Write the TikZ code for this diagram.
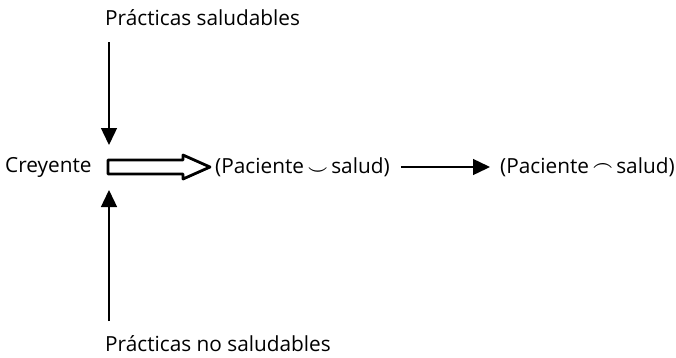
\documentclass[tikz,border=0pt]{standalone}
\usepackage{fontspec}
\setmainfont{Open Sans}
\usetikzlibrary{arrows.meta,calc}
\newcommand{\cupsym}{\,\raisebox{-1pt}{\scalebox{0.85}{$\boldsymbol{\smile}$}}\,}
\newcommand{\capsym}{\,\raisebox{3pt}{\scalebox{0.85}{$\boldsymbol{\frown}$}}\,}
\usepackage{amsmath,bm}
\begin{document}
\begin{tikzpicture}[x=1pt,y=-1pt,
  lbl/.style={inner sep=0pt,font=\fontsize{20.8}{24}\selectfont},
  conn/.style={line width=1.4pt,-{Triangle[length=17pt,width=16pt]}},
  hollow/.style={draw,line width=2.8pt,line join=round}]
\useasboundingbox (0,0) rectangle (676,357);
\node[lbl,anchor=west] (top) at (105,18) {Prácticas saludables};
\node[lbl,anchor=west] (bottom) at (105,344) {Prácticas no saludables};
\node[lbl,anchor=west] (crey) at (5,167) {Creyente};
\node[lbl,anchor=west] (union) at (215,167) {(Paciente\cupsym salud)};
\node[lbl,anchor=west] (inter) at (500,167) {(Paciente\capsym salud)};
\coordinate (ttip) at (109,145);
\coordinate (btip) at (109,190);
\coordinate (tstart) at (109,42);
\coordinate (bstart) at (109,321);
\coordinate (h) at (108,167);
\draw[hollow] ($(h)+(0,-7)$) -- ++(75,0) -- ++(0,-5) -- ++(27,12) -- ++(-27,12) -- ++(0,-5) -- ++(-75,0) -- cycle;
\draw[conn] (tstart) -- (ttip);
\draw[conn] (bstart) -- (btip);
\draw[conn] ($(union.east)+(11,0)$) -- ($(inter.west)+(-10,0)$);
\end{tikzpicture}
\end{document}
